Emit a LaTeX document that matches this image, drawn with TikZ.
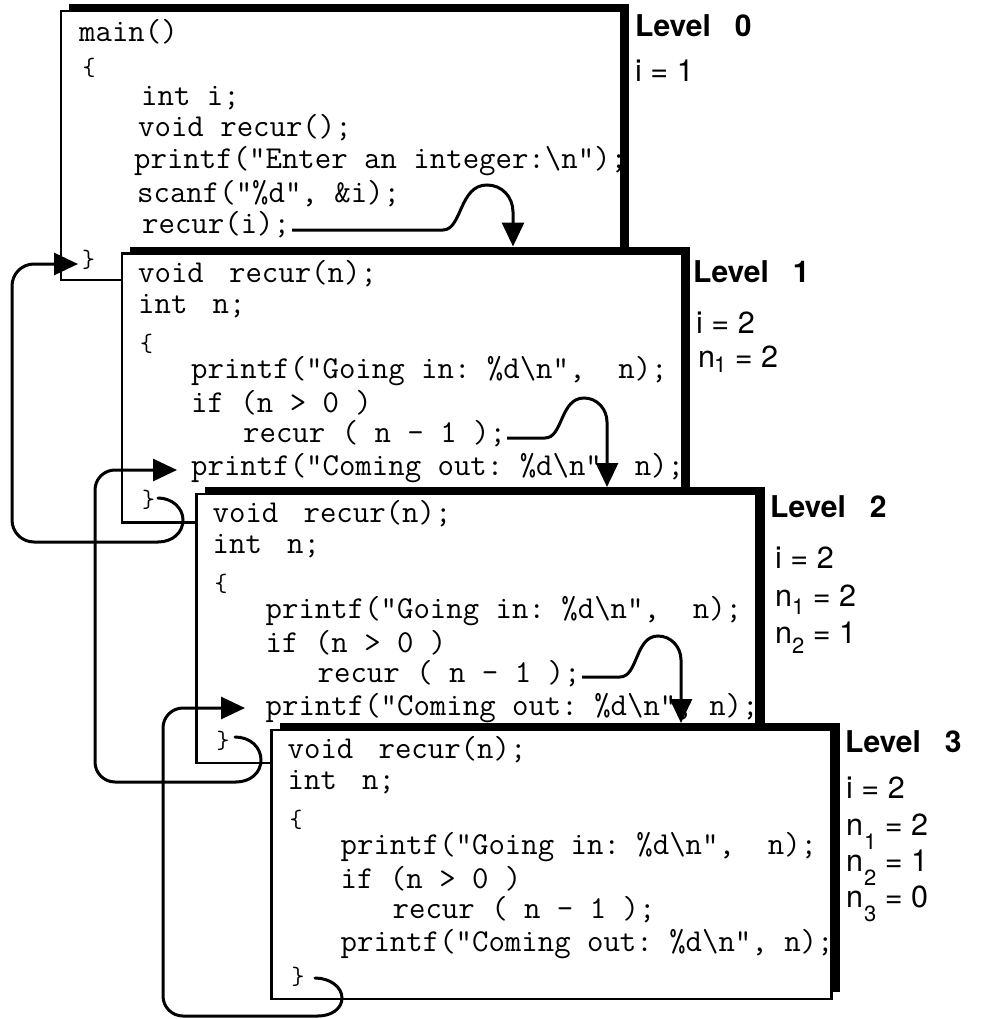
\documentclass[tikz,border=0pt]{standalone}
\usepackage{fontspec}
\newfontfamily\labfont{TeX Gyre Heros}
\usetikzlibrary{arrows.meta,shadows}

% lowered subscript: #1 = drop, #2 = digit
\newcommand\lowsub[2]{\raisebox{-#1}{\fontsize{22}{22}\selectfont #2}}

\tikzset{
  codebox/.style={draw, line width=2.8pt, fill=white,
    minimum width=560pt, minimum height=269pt,
    inner sep=0pt, outer sep=0pt, anchor=north west,
    drop shadow={shadow xshift=8pt, shadow yshift=7pt, opacity=1, fill=black}},
  code/.style={inner sep=0pt, anchor=base west,
    font=\ttfamily\fontsize{31.9}{31.9}\selectfont\frenchspacing},
  brace/.style={inner sep=0pt, anchor=center,
    font=\ttfamily\fontsize{25}{25}\selectfont},
  lev/.style={inner sep=0pt, anchor=base west,
    font=\labfont\bfseries\fontsize{30}{30}\selectfont},
  val/.style={inner sep=0pt, anchor=base west,
    font=\labfont\fontsize{30.5}{30.5}\selectfont},
  wire/.style={line width=3pt},
  link/.style={wire, -{Triangle[length=24pt,width=22pt]}},
}

% one activation of recur(): box and its source lines
\newcommand\recbox[3]{%
  \begin{scope}[shift={(#2,#3)}]
    \node[codebox] (#1) at (0,0) {};
    \node[code] (#1-decl) at (16,28.5) {void\hspace{0.79em}recur(n);};
    \node[code] (#1-int) at (16,59.5) {int\hspace{0.79em}n;};
    \node[brace] (#1-open) at (24.5,90) {\{};
    \node[code] (#1-in) at (69,124.5) {printf("Going in: \%d\textbackslash n",\ \ n);};
    \node[code] (#1-if) at (69,158.5) {if (n > 0 )};
    \node[code] (#1-call) at (121,188.5) {recur ( n - 1 );};
    \node[code] (#1-out) at (69,221.5) {printf("Coming out: \%d\textbackslash n", n);};
    \node[brace] (#1-close) at (26.5,246.5) {\}};
  \end{scope}}

\newcommand\levgap{\hspace{24pt}}

\begin{document}
\begin{tikzpicture}[x=1pt, y=-1pt]
\useasboundingbox (0,0) rectangle (981,1019);

% level 0: main()
\node[codebox] (b0) at (61,11) {};
\node[code] (b0-main) at (79,42) {main()};
\node[brace] (b0-open) at (89,68) {\{};
\node[code] (b0-int) at (141,106) {int i;};
\node[code] (b0-decl) at (138,137) {void recur();};
\node[code] (b0-prompt) at (134,168) {printf("Enter an integer:\textbackslash n");};
\node[code] (b0-scan) at (137,202) {scanf("\%d", \&i);};
\node[code] (b0-call) at (142,233) {recur(i);};
\node[brace] (b0-close) at (88.5,260) {\}};

% levels 1-3: recursive activations
\recbox{b1}{122}{253.5}
\recbox{b2}{196.5}{494}
\recbox{b3}{271.5}{730}

% variable values at each level
\node[lev] (lv0) at (635,37) {Level\levgap 0};
\node[val] (lv0-i) at (635,82) {i = 1};

\node[lev] (lv1) at (693,282) {Level\levgap 1};
\node[val] (lv1-i) at (696,333) {i = 2};
\node[val] (lv1-n1) at (698,367) {n\kern-1pt\lowsub{5pt}{1} = 2};

\node[lev] (lv2) at (770,517) {Level\levgap 2};
\node[val] (lv2-i) at (775,568) {i = 2};
\node[val] (lv2-n1) at (775,606) {n\lowsub{8pt}{1} = 2};
\node[val] (lv2-n2) at (775,643) {n\lowsub{10pt}{2} = 1};

\node[lev] (lv3) at (845,752) {Level\levgap 3};
\node[val] (lv3-i) at (846,798) {i = 2};
\node[val] (lv3-n1) at (846,835) {n\kern1pt\lowsub{14pt}{1} = 2};
\node[val] (lv3-n2) at (846,871) {n\kern1pt\lowsub{14pt}{2} = 1};
\node[val] (lv3-n3) at (846,907) {n\kern1pt\lowsub{14pt}{3} = 0};

% end points of the call and return connectors
\coordinate (c0s) at (292,230);
\coordinate (c0t) at (513,246.5);
\coordinate (c1s) at (507,438);
\coordinate (c1t) at (607,487);
\coordinate (c2s) at (582,677);
\coordinate (c2t) at (681,723);
\coordinate (r1s) at (158,498);
\coordinate (r1m) at (158,542);
\coordinate (r1t) at (78,264);
\coordinate (r2s) at (235,737);
\coordinate (r2m) at (236,782);
\coordinate (r2t) at (177,470);
\coordinate (r3s) at (315,978);
\coordinate (r3m) at (318,1016);
\coordinate (r3t) at (245,708);

% calls: into the next activation
\draw[link] (c0s) -- (443,230) .. controls (462,230) and (459,185) .. (487,185)
  .. controls (502,185) and (513,197) .. (513,212) -- (c0t);
\draw[link] (c1s) -- (545,438) .. controls (563,438) and (560,398) .. (584,398)
  .. controls (597,398) and (607,409) .. (607,422) -- (c1t);
\draw[link] (c2s) -- (620,677) .. controls (638,677) and (635,636) .. (658,636)
  .. controls (671,636) and (681,647) .. (681,660) -- (c2t);

% returns: hook round the closing brace, then back to the caller
\draw[wire, line cap=round] (r1s) .. controls (172,498) and (183,508) .. (183,520)
  .. controls (183,533) and (172,542) .. (r1m);
\draw[link, rounded corners=22pt] (r1m) -- (12,542) -- (12,264) -- (r1t);
\draw[wire, line cap=round] (r2s) .. controls (250,737) and (261,747) .. (261,760)
  .. controls (261,773) and (250,782) .. (r2m);
\draw[link, rounded corners=20pt] (r2m) -- (95,782) -- (95,470) -- (r2t);
\draw[wire, line cap=round] (r3s) .. controls (330,978) and (342,987) .. (342,998)
  .. controls (342,1009) and (331,1016) .. (r3m);
\draw[link, rounded corners=20pt] (r3m) -- (163,1016) -- (163,708) -- (r3t);
\end{tikzpicture}
\end{document}
